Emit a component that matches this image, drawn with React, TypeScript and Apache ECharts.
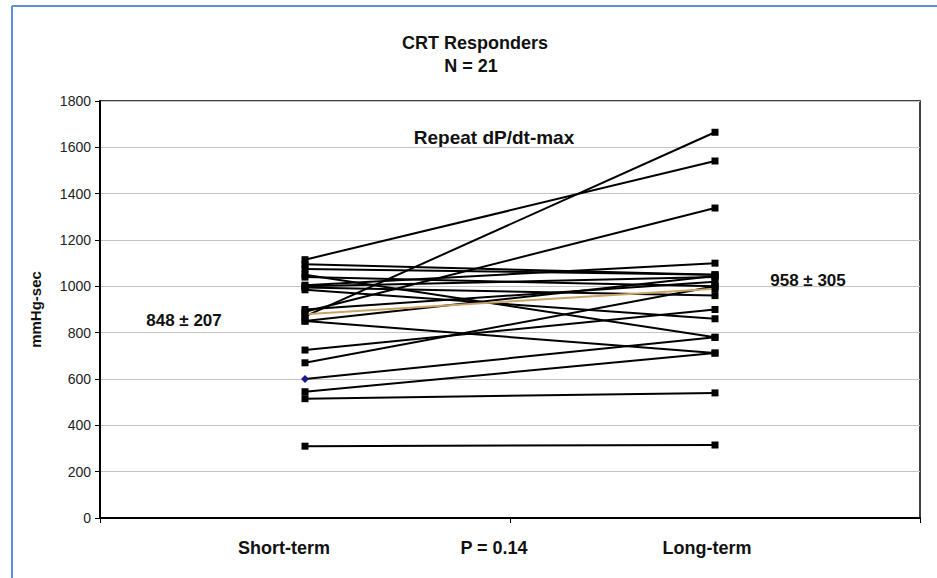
import React, { useEffect, useRef } from "react";
import * as echarts from "echarts";

const categories = ["Short-term", "Long-term"];
const shortTerm = [1115, 870, 890, 1075, 1040, 1050, 995, 1000, 985, 1005, 850, 725, 670, 600, 545, 515, 310, 900, 880, 1095, 850];
const longTerm = [1541, 1665, 1338, 1050, 1000, 780, 960, 1040, 860, 1100, 712, 900, 1000, 780, 712, 540, 315, 1020, 990, 1050, 1045];
const lineColors = ["#000", "#000", "#000", "#000", "#000", "#000", "#000", "#000", "#000", "#000", "#000", "#000", "#000", "#000", "#000", "#000", "#000", "#000", "#c8a468", "#000", "#000"];
const diamondIndex = 13;
const yTicks = { min: 0, max: 1800, interval: 200 };
const titleLines = ["CRT Responders", "N = 21"];
const annotations = { left: "848 ± 207", right: "958 ± 305", top: "Repeat dP/dt-max", middle: "P = 0.14" };
const yName = "mmHg-sec";

const FONT = "'Liberation Sans', Arial, sans-serif";

export default function App() {
  const ref = useRef<HTMLDivElement>(null);
  useEffect(() => {
    document.body.style.margin = "0";
    const chart = echarts.init(ref.current!, null, { renderer: "svg" });
    const series = shortTerm.map((s, i) => ({
      type: "line",
      data: [
        i === diamondIndex
          ? { value: s, symbol: "diamond", symbolSize: 8, itemStyle: { color: "#1b1b8c" } }
          : s,
        longTerm[i],
      ],
      symbol: "rect",
      symbolSize: 7,
      showSymbol: true,
      itemStyle: { color: "#000" },
      lineStyle: { color: lineColors[i], width: 2 },
      z: lineColors[i] === "#000" ? 3 : 4,
      silent: true,
    }));
    const text = (s: string, x: number, y: number, size = 14, extra: any = {}) => ({
      type: "text",
      x,
      y,
      style: {
        text: s,
        fill: "#111",
        font: `bold ${size}px ${FONT}`,
        textAlign: "center",
        textVerticalAlign: "middle",
        ...extra,
      },
    });
    chart.setOption({
      animation: false,
      backgroundColor: "#fff",
      grid: { left: 100, right: 17, top: 101, bottom: 60, show: true, borderColor: "#000", borderWidth: 1.5 },
      xAxis: {
        type: "category",
        data: categories,
        boundaryGap: true,
        axisLine: { lineStyle: { color: "#000", width: 2 } },
        axisTick: { show: true, length: 5, lineStyle: { color: "#000" } },
        axisLabel: { show: false },
      },
      yAxis: {
        type: "value",
        min: yTicks.min,
        max: yTicks.max,
        interval: yTicks.interval,
        name: yName,
        nameLocation: "middle",
        nameGap: 57,
        nameTextStyle: { fontFamily: FONT, fontWeight: "bold", fontSize: 15, color: "#111" },
        axisLine: { show: true, lineStyle: { color: "#000", width: 2 } },
        axisTick: { show: true, length: 5, lineStyle: { color: "#000" } },
        axisLabel: { fontFamily: FONT, fontSize: 14, color: "#222", margin: 9, formatter: (v: number) => String(v) },
        splitLine: { lineStyle: { color: "#c4c4c4", width: 1.2 } },
      },
      series,
      graphic: [
        { type: "line", shape: { x1: 12, y1: 6, x2: 937, y2: 6 }, style: { stroke: "#5b8fd6", lineWidth: 2 } },
        { type: "line", shape: { x1: 12, y1: 6, x2: 12, y2: 578 }, style: { stroke: "#5b8fd6", lineWidth: 2 } },
        text(titleLines[0], 475, 43, 18),
        text(titleLines[1], 471, 66, 18),
        text(annotations.top, 494, 137, 19),
        text(annotations.left, 184, 320, 17),
        text(annotations.right, 808, 280, 17),
        text(categories[0], 284, 548, 18),
        text(annotations.middle, 494, 548, 18),
        text(categories[1], 707, 548, 18),
      ],
    });
    return () => chart.dispose();
  }, []);
  return <div ref={ref} style={{ width: 937, height: 578 }} />;
}
